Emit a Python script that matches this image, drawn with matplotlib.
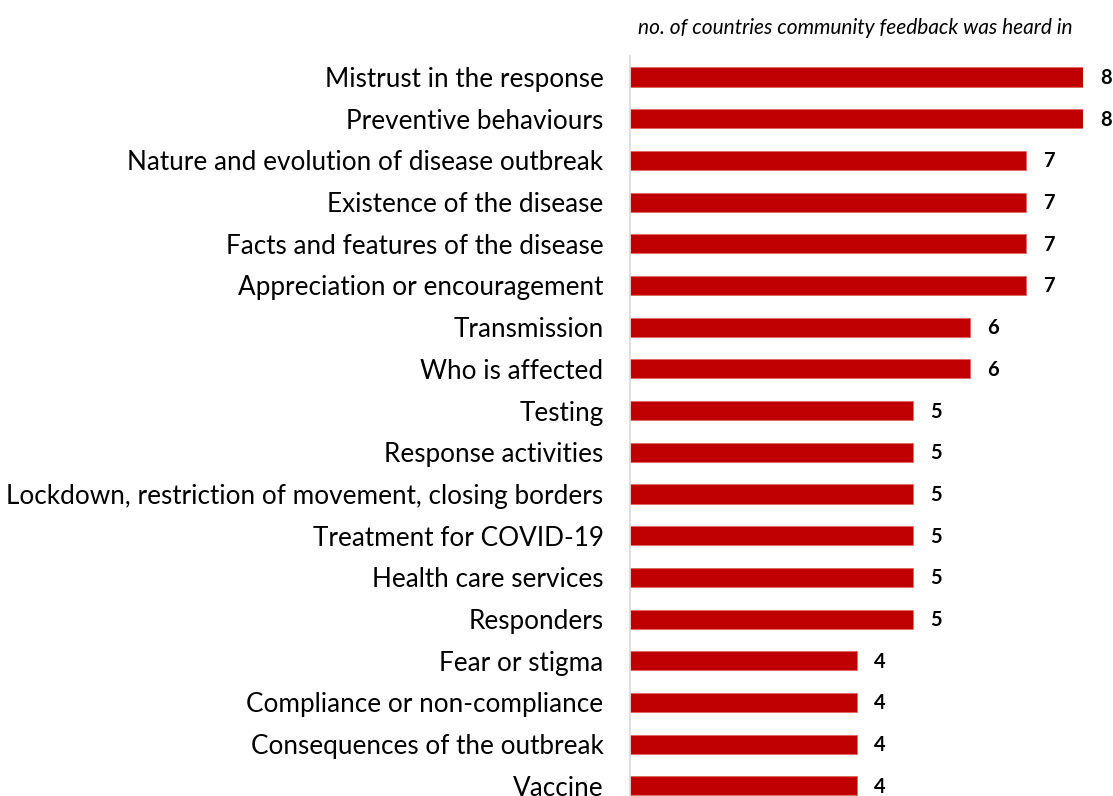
import matplotlib.pyplot as plt
from matplotlib.transforms import offset_copy

plt.rcParams['font.family'] = ['Lato', 'DejaVu Sans']

topics = ['Mistrust in the response', 'Preventive behaviours',
          'Nature and evolution of disease outbreak', 'Existence of the disease',
          'Facts and features of the disease', 'Appreciation or encouragement',
          'Transmission', 'Who is affected', 'Testing', 'Response activities',
          'Lockdown, restriction of movement, closing borders', 'Treatment for COVID-19',
          'Health care services', 'Responders', 'Fear or stigma',
          'Compliance or non-compliance', 'Consequences of the outbreak', 'Vaccine']
countries = [8, 8, 7, 7, 7, 7, 6, 6, 5, 5, 5, 5, 5, 5, 4, 4, 4, 4]

W, H = 1113, 796
fig = plt.figure(figsize=(W / 100, H / 100), dpi=100)
row = 41.7
top_px = 77 - row / 2
bot_px = top_px + row * len(topics)
ax = fig.add_axes([630 / W, 1 - bot_px / H, 453 / W, (bot_px - top_px) / H])

ypos = list(range(len(topics)))
ax.barh(ypos, countries, height=0.46, color='#C00000', edgecolor='#e06666', linewidth=0.6)
ax.set_xlim(0, 8)
ax.set_ylim(len(topics) - 0.5, -0.5)

for s in ['top', 'right', 'bottom']:
    ax.spines[s].set_visible(False)
ax.spines['left'].set_color('#d9d9d9')
ax.spines['left'].set_linewidth(1.2)
ax.set_xticks([])
ax.set_yticks(ypos)
ax.set_yticklabels(topics, fontsize=18.8, color='#000000')
ax.tick_params(axis='y', length=0, pad=19)

val_tr = offset_copy(ax.transData, fig=fig, x=17, y=-1, units='dots')
for y, v in zip(ypos, countries):
    ax.text(v, y, str(v), transform=val_tr, ha='left', va='center',
            fontsize=14.5, fontweight='bold', clip_on=False)

fig.text(1073 / W, 1 - 28 / H, 'no. of countries community feedback was heard in',
         ha='right', va='center', fontsize=15, style='italic')

fig.savefig('out.png', dpi=100)
